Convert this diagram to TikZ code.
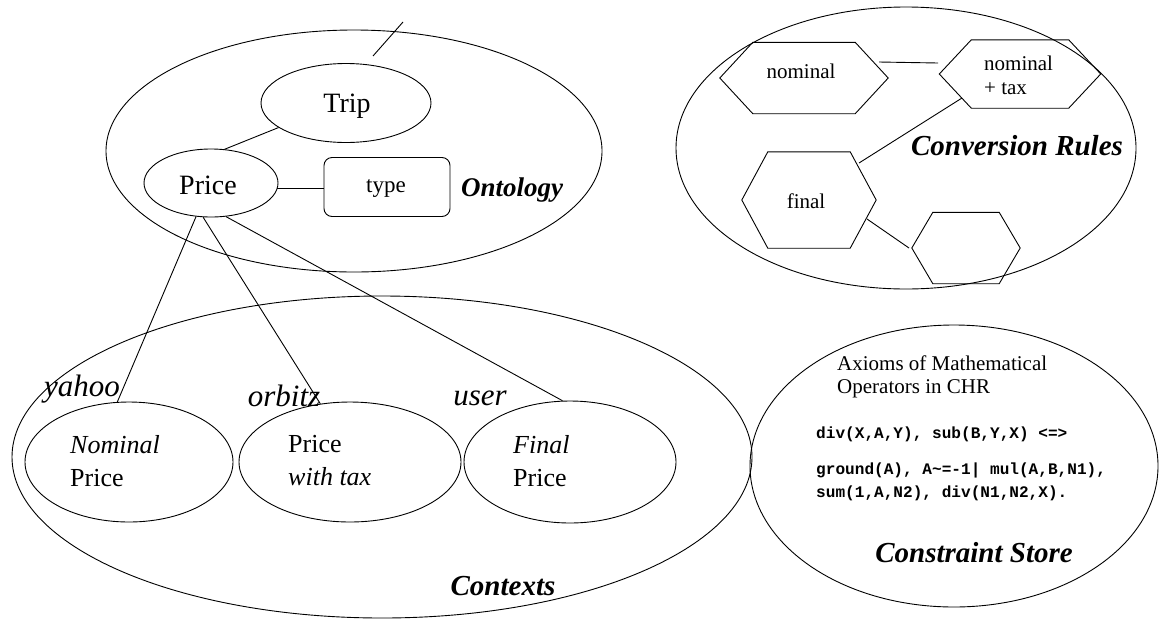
\documentclass[tikz,border=0pt]{standalone}
\usepackage{fontspec}
\setmainfont{Liberation Serif}
\setmonofont{Liberation Mono}
\usetikzlibrary{shapes.geometric}
\newcommand\setfs[2]{\fontsize{#1}{#2}\selectfont}
\newcommand\hexnode[6]{%
  \node[minimum width=#4pt, minimum height=#5pt, inner sep=0pt] (#1) at (#2,#3) {};
  \draw[shapeline] ([xshift=#6pt]#1.north west) -- ([xshift=-#6pt]#1.north east) -- (#1.east)
    -- ([xshift=-#6pt]#1.south east) -- ([xshift=#6pt]#1.south west) -- (#1.west) -- cycle;}
\begin{document}
\begin{tikzpicture}[x=1pt,y=-1pt,
  shapeline/.style={line width=0.9pt},
  ell/.style={draw, ellipse, inner sep=0pt, shapeline},
  link/.style={line width=0.9pt},
  txt/.style={inner sep=0pt},
  bigl/.style={txt, font=\bfseries\itshape\setfs{29}{31}},
  ctxl/.style={txt, font=\itshape\setfs{31}{33}},
  inner/.style={txt, align=left, font=\setfs{26}{33}},
  hext/.style={txt, font=\setfs{21}{24}},
  codet/.style={txt, anchor=west, align=left, font=\ttfamily\bfseries\setfs{16.1}{23}}]
\useasboundingbox (0,0) rectangle (1161,619);

% ---------- Ontology ----------
\node[ell, minimum width=496pt, minimum height=242pt] (ont) at (354,151) {};
\node[ell, minimum width=170pt, minimum height=79pt] (trip) at (346,103) {};
\node[ell, minimum width=134pt, minimum height=68pt] (price) at (211,183) {};
\node[draw, shapeline, rounded corners=8pt, minimum width=126pt, minimum height=59pt, inner sep=0pt] (type) at (387,187) {};
\node[txt, font=\setfs{28}{30}] (triptxt) at (347,106) {Trip};
\node[txt, font=\setfs{28}{30}] (pricetxt) at (208,185) {Price};
\node[txt, font=\setfs{23}{25}] (typetxt) at (386,189) {type};
\node[txt, font=\bfseries\itshape\setfs{27}{29}] (ontl) at (512,190) {Ontology};
\draw[link] (trip.200) -- (price.68);
\draw[link] (price.-5) -- (price.-5 -| type.west);
\coordinate (s1) at (373,56);
\coordinate (s2) at (403,22);
\draw[link] (s1) -- (s2);

% ---------- Conversion Rules ----------
\node[ell, minimum width=460pt, minimum height=282pt] (conv) at (906,148) {};
\hexnode{hnom}{804}{78}{168}{71}{33}
\hexnode{hnt}{1020}{74}{161}{68}{32}
\hexnode{hfin}{809}{200}{134}{96}{26}
\hexnode{hemp}{966}{248}{108}{71}{21}
\node[hext] (nomtxt) at (801,71) {nominal};
\node[hext, anchor=west, align=left] (nttxt) at (984,75) {nominal\\+ tax};
\node[hext] (fintxt) at (806,201) {final};
\node[bigl] (convl) at (1017,146) {Conversion Rules};
\coordinate (a1) at (879,62);
\coordinate (a2) at (938,63);
\coordinate (b1) at (859,163);
\coordinate (b2) at (962,98);
\coordinate (d1) at (867,219);
\coordinate (d2) at (909,248);
\draw[link] (a1) -- (a2);
\draw[link] (b1) -- (b2);
\draw[link] (d1) -- (d2);

% ---------- Contexts ----------
\node[ell, minimum width=740pt, minimum height=322pt] (ctx) at (382,457) {};
\node[ell, minimum width=208pt, minimum height=120pt] (yahoo) at (129,462) {};
\node[ell, minimum width=222pt, minimum height=120pt] (orbitz) at (350,462) {};
\node[ell, minimum width=212pt, minimum height=122pt] (user) at (570,462) {};
\node[ctxl] (yahool) at (82,389) {yahoo};
\node[ctxl] (orbitzl) at (284,396) {orbitz};
\node[ctxl] (userl) at (480,398) {user};
\node[inner, anchor=west] (ytxt) at (70,461) {\textit{Nominal}\\Price};
\node[inner, anchor=west] (otxt) at (288,461) {Price\\\textit{with tax}};
\node[inner, anchor=west] (utxt) at (513,461) {\textit{Final}\\Price};
\node[bigl] (ctxlab) at (503,586) {Contexts};
\draw[link] (price.-114) -- (yahoo.101);
\draw[link] (price.-103) -- (orbitz.117);
\draw[link] (price.-66) -- (user.97);

% ---------- Constraint Store ----------
\node[ell, minimum width=408pt, minimum height=282pt] (cs) at (954,466) {};
\node[txt, anchor=west, align=left, font=\setfs{21}{23}] (ax) at (837,377) {Axioms of Mathematical\\Operators in CHR};
\node[codet] (code1) at (816,434) {div(X,A,Y), sub(B,Y,X) <=>};
\node[codet] (code2) at (816,482) {ground(A), A\string~=-1| mul(A,B,N1),\\sum(1,A,N2), div(N1,N2,X).};
\node[bigl] (csl) at (974,553) {Constraint Store};
\end{tikzpicture}
\end{document}
